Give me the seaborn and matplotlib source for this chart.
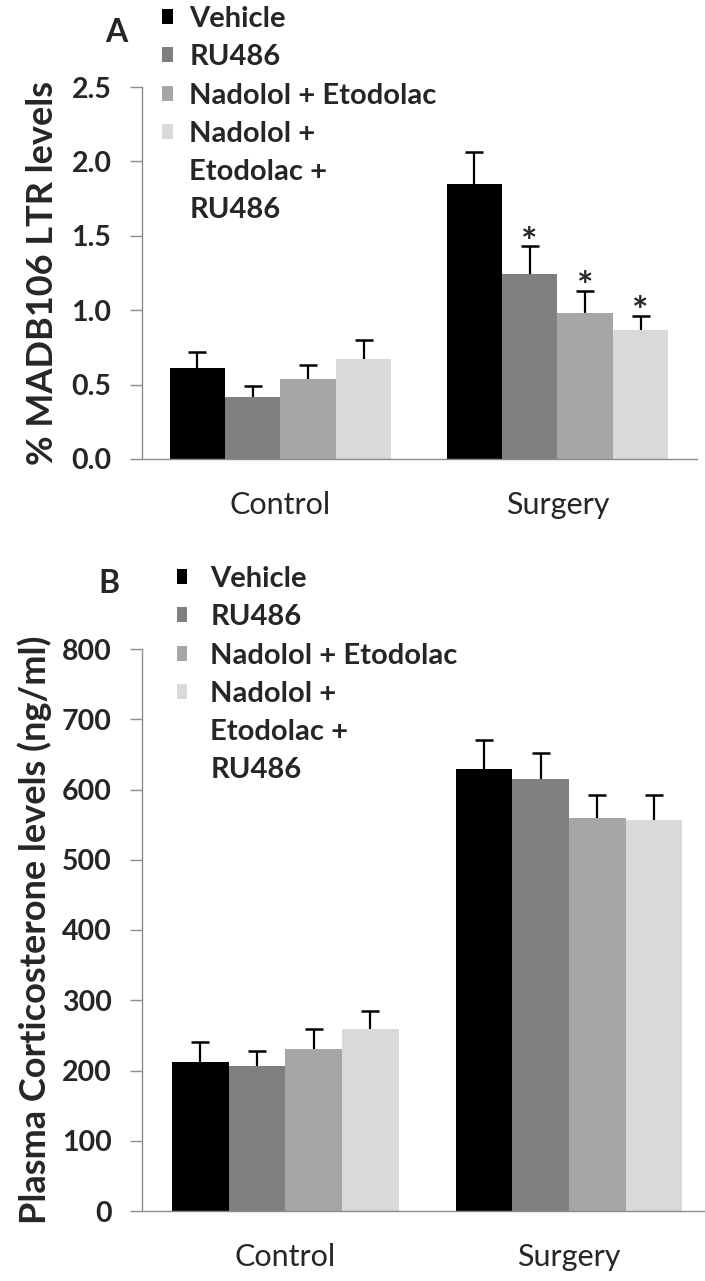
import numpy as np
import pandas as pd
import matplotlib
matplotlib.use("Agg")
import matplotlib.pyplot as plt
import seaborn as sns
from matplotlib.patches import Patch

# ---- data -------------------------------------------------------------
groups = ["Control", "Surgery"]
treatments = ["Vehicle", "RU486", "Nadolol + Etodolac", "Nadolol + Etodolac + RU486"]
legend_lines = ["Vehicle", "RU486", "Nadolol + Etodolac", "Nadolol +", "Etodolac +", "RU486"]
bar_colors = ["#000000", "#808080", "#a6a6a6", "#d9d9d9"]

# Panel A: % MADB106 LTR levels (mean and SEM per treatment)
ltr_control = [0.61, 0.42, 0.54, 0.67]
ltr_control_sem = [0.11, 0.07, 0.09, 0.13]
ltr_surgery = [1.85, 1.24, 0.98, 0.87]
ltr_surgery_sem = [0.21, 0.19, 0.15, 0.09]
ltr_surgery_sig = [False, True, True, True]
ltr_ticks = [0.0, 0.5, 1.0, 1.5, 2.0, 2.5]

# Panel B: plasma corticosterone (ng/ml)
cort_control = [212, 206, 230, 259]
cort_control_sem = [29, 22, 29, 25]
cort_surgery = [629, 615, 559, 557]
cort_surgery_sem = [42, 37, 33, 35]
cort_surgery_sig = [False, False, False, False]
cort_ticks = [0, 100, 200, 300, 400, 500, 600, 700, 800]

# ---- style ------------------------------------------------------------
sns.set_style("ticks")
plt.rcParams["font.family"] = ["Lato", "DejaVu Sans"]
AXIS_GREY = "#8c8c8c"

W, H = 705, 1281
fig = plt.figure(figsize=(W / 100, H / 100), dpi=100)


def px_axes(left, top, right, bottom):
    return fig.add_axes([left / W, 1 - bottom / H, (right - left) / W, (bottom - top) / H])


def draw_panel(ax, control, control_sem, surgery, surgery_sem, sig, ticks, fmt,
               ylabel, xlim, label_x):
    df = pd.DataFrame({
        "group": np.repeat(groups, len(treatments)),
        "treatment": treatments * len(groups),
        "value": control + surgery,
    })
    sns.barplot(data=df, x="group", y="value", hue="treatment", order=groups,
                hue_order=treatments, palette=bar_colors, saturation=1,
                width=0.8, errorbar=None, linewidth=0, legend=False, ax=ax)

    sems = [control_sem, surgery_sem]
    means = [control, surgery]
    bar_containers = list(ax.containers)
    for ti, container in enumerate(bar_containers):
        for gi, bar in enumerate(container.patches):
            x = bar.get_x() + bar.get_width() / 2
            y = means[gi][ti]
            e = sems[gi][ti]
            ax.errorbar([x], [y], yerr=[[0], [e]], fmt="none", ecolor="black",
                        elinewidth=1.6, capsize=0, zorder=3)
            ax.plot([x], [y + e], marker="_", markersize=13, mew=1.8,
                    color="black", zorder=3)
            if gi == 1 and sig[ti]:
                ax.annotate("*", xy=(x, y + e), xytext=(0, -6),
                            textcoords="offset points", ha="center",
                            va="baseline", fontsize=28, fontweight="bold")

    ax.set_xlim(*xlim)
    ax.set_ylim(ticks[0], ticks[-1])
    ax.set_yticks(ticks)
    ax.set_yticklabels([fmt.format(t) for t in ticks], fontweight="bold")
    ax.set_xlabel("")
    ax.set_ylabel(ylabel, fontsize=26, fontweight="bold")
    ax.yaxis.set_label_coords(label_x, 0.5)
    sns.despine(ax=ax)
    for side in ("left", "bottom"):
        ax.spines[side].set_color(AXIS_GREY)
        ax.spines[side].set_linewidth(1.0)
    ax.tick_params(axis="y", length=9, width=1.0, color=AXIS_GREY,
                   direction="out", pad=13, labelsize=20.5)
    ax.tick_params(axis="x", length=0, pad=23, labelsize=22)


def add_legend(ax, anchor_px, textpad):
    handles = [Patch(facecolor=c, edgecolor="none") for c in bar_colors]
    handles += [Patch(facecolor="none", edgecolor="none")] * 2
    leg = ax.legend(handles, legend_lines, loc="upper left",
                    bbox_to_anchor=(anchor_px[0] / W, 1 - anchor_px[1] / H),
                    bbox_transform=fig.transFigure, frameon=False,
                    fontsize=21, handlelength=0.36, handleheight=0.42,
                    handletextpad=textpad, labelspacing=0.42,
                    borderpad=0, borderaxespad=0)
    for t in leg.get_texts():
        t.set_fontweight("bold")
    return leg


# ---- panel A ----------------------------------------------------------
axA = px_axes(142, 87, 697, 459)
draw_panel(axA, ltr_control, ltr_control_sem, ltr_surgery, ltr_surgery_sem,
           ltr_surgery_sig, ltr_ticks, "{:.1f}", "% MADB106 LTR levels",
           (-0.50, 1.504), -0.15)
add_legend(axA, (162, 6), 0.58)
fig.text(116 / W, 1 - 32 / H, "A", ha="center", va="center",
         fontsize=23, fontweight="bold")

# ---- panel B ----------------------------------------------------------
axB = px_axes(142, 649, 705, 1211)
draw_panel(axB, cort_control, cort_control_sem, cort_surgery, cort_surgery_sem,
           cort_surgery_sig, cort_ticks, "{:d}",
           "Plasma Corticosterone levels (ng/ml)", (-0.506, 1.48), -0.16)
add_legend(axB, (177, 566), 0.78)
fig.text(109 / W, 1 - 583 / H, "B", ha="center", va="center",
         fontsize=23, fontweight="bold")

fig.savefig("out.png", dpi=100)
